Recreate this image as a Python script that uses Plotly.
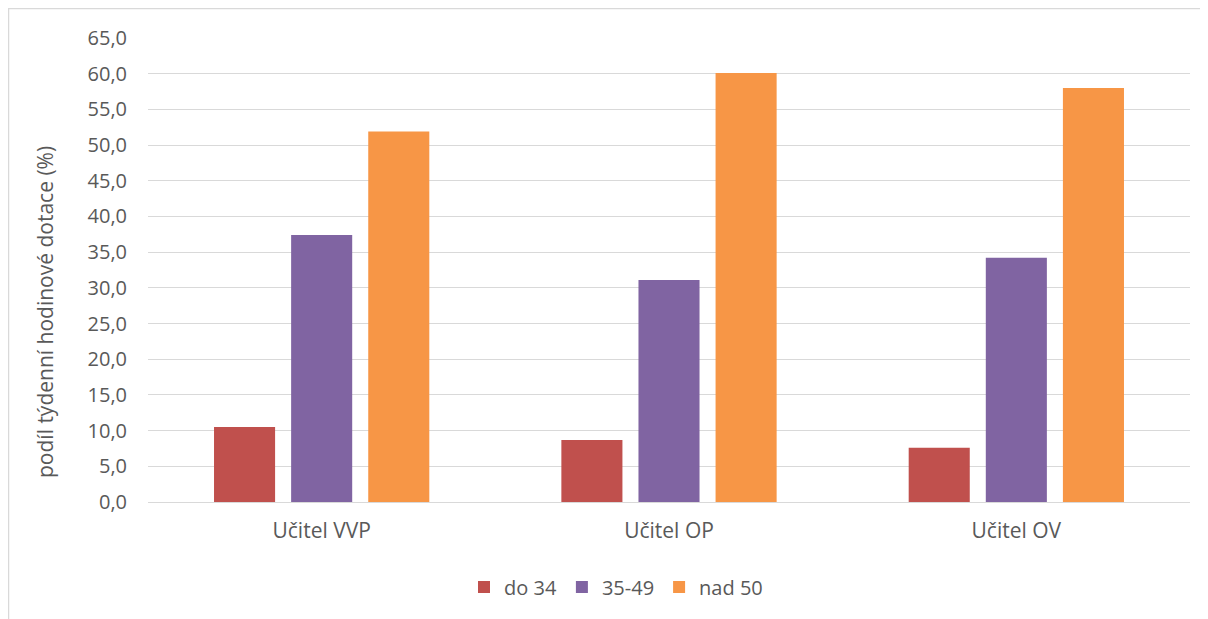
import plotly.graph_objects as go

categories = ["Učitel VVP", "Učitel OP", "Učitel OV"]
series_names = ["do 34", "35-49", "nad 50"]
do34 = [10.5, 8.7, 7.6]
s35_49 = [37.4, 31.1, 34.2]
nad50 = [51.9, 60.1, 58.0]
colors = ["#C0504D", "#8064A2", "#F79646"]
tick_vals = [0, 5, 10, 15, 20, 25, 30, 35, 40, 45, 50, 55, 60, 65]
tick_text = ["0,0", "5,0", "10,0", "15,0", "20,0", "25,0", "30,0", "35,0", "40,0", "45,0", "50,0", "55,0", "60,0", "65,0"]

# page is offset by 8px body margin; all pixel positions below are page coords minus 8
OFF = 8
W, H = 1200, 611
L, R, T, B = 140, 18, 30, 117
pw, ph = W - L - R, H - T - B

def px(x):
    return (x - OFF - L) / pw

def py(y):
    return (H - B - (y - OFF)) / ph

font_family = "'Open Sans', sans-serif"
text_color = "#595959"

fig = go.Figure()
for name, vals, col in zip(series_names, [do34, s35_49, nad50], colors):
    fig.add_trace(go.Bar(x=categories, y=vals, name=name, marker=dict(color=col, line=dict(width=0))))

fig.update_layout(
    width=W, height=H,
    margin=dict(l=L, r=R, t=T, b=B),
    paper_bgcolor="white", plot_bgcolor="white",
    barmode="group", bargap=0.334, bargroupgap=0.208,
    font=dict(family=font_family, color=text_color, size=20),
    showlegend=True,
    legend=dict(orientation="h", x=px(616), xanchor="center", y=py(587), yanchor="middle",
                font=dict(size=20, color=text_color), itemwidth=30, traceorder="normal"),
    xaxis=dict(showgrid=False, showline=False, ticks="", ticklabelstandoff=14,
               tickfont=dict(size=21, color=text_color)),
    yaxis=dict(range=[0, 65], tickvals=tick_vals, ticktext=tick_text, showgrid=True,
               gridcolor="#D9D9D9", gridwidth=1.3, zeroline=True, zerolinecolor="#D9D9D9",
               zerolinewidth=1.3, showline=False, ticks="", ticklabelstandoff=20,
               tickfont=dict(size=20, color=text_color)),
    shapes=[dict(type="rect", xref="paper", yref="paper", x0=px(8.5), x1=px(1215), y0=py(640), y1=py(8.5),
                 line=dict(color="#D9D9D9", width=1.5), fillcolor="rgba(0,0,0,0)", layer="below")],
    annotations=[
        dict(text="podíl týdenní hodinové dotace (%)", xref="paper", yref="paper", x=px(45), y=py(312),
             xanchor="center", yanchor="middle", textangle=-90, showarrow=False,
             font=dict(size=21, color=text_color)),
    ],
)

fig.write_html("out.html")
